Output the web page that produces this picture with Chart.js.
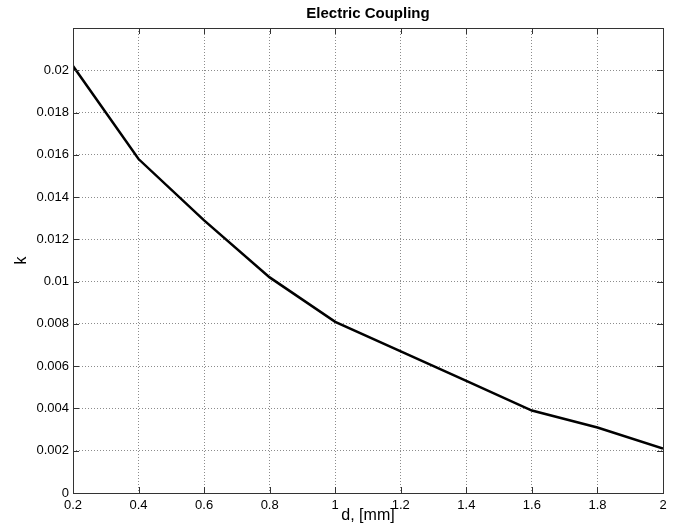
<!DOCTYPE html>
<html>
<head>
<meta charset="utf-8">
<script src="https://cdn.jsdelivr.net/npm/chart.js@4.4.1/dist/chart.umd.min.js"></script>
<style>
  html, body { margin: 0; padding: 0; background: #fff; }
  #wrap { width: 679px; height: 526px; }
</style>
</head>
<body>
<div id="wrap"><canvas id="mychart" width="679" height="526"></canvas></div>
<script>
// distance d in mm and coupling k
const dValues = [0.2, 0.4, 0.6, 0.8, 1.0, 1.2, 1.4, 1.6, 1.8, 2.0];
const kValues = [0.0202, 0.0158, 0.0129, 0.0102, 0.0081, 0.0067, 0.0053, 0.0039, 0.0031, 0.0021];
const xTicks = [0.2, 0.4, 0.6, 0.8, 1, 1.2, 1.4, 1.6, 1.8, 2];
const yTicks = [0, 0.002, 0.004, 0.006, 0.008, 0.01, 0.012, 0.014, 0.016, 0.018, 0.02];

const FONT = 'Liberation Sans, Arial, Helvetica, sans-serif';

// box + inward ticks + title, matlab style
const matlabBox = {
  id: 'matlabBox',
  afterDraw(chart) {
    const ctx = chart.ctx;
    const a = chart.chartArea;
    const xs = chart.scales.x, ys = chart.scales.y;
    ctx.save();
    ctx.strokeStyle = '#333';
    ctx.lineWidth = 1;
    ctx.beginPath();
    xTicks.forEach(v => {
      const px = Math.round(xs.getPixelForValue(v)) + 0.5;
      ctx.moveTo(px, a.bottom); ctx.lineTo(px, a.bottom - 6);
      ctx.moveTo(px, a.top); ctx.lineTo(px, a.top + 6);
    });
    yTicks.forEach(v => {
      const py = Math.round(ys.getPixelForValue(v)) + 0.5;
      ctx.moveTo(a.left, py); ctx.lineTo(a.left + 6, py);
      ctx.moveTo(a.right, py); ctx.lineTo(a.right - 6, py);
    });
    ctx.stroke();
    ctx.strokeRect(Math.round(a.left) + 0.5, Math.round(a.top) + 0.5,
      Math.round(a.right - a.left), Math.round(a.bottom - a.top));
    ctx.fillStyle = '#000';
    ctx.font = 'bold 15px ' + FONT;
    ctx.textAlign = 'center';
    ctx.textBaseline = 'alphabetic';
    ctx.fillText('Electric Coupling', (a.left + a.right) / 2, 18);
    ctx.restore();
  }
};

new Chart(document.getElementById('mychart'), {
  type: 'line',
  data: {
    datasets: [{
      label: 'k',
      data: dValues.map((d, i) => ({ x: d, y: kValues[i] })),
      borderColor: '#000',
      borderWidth: 2.5,
      pointRadius: 0,
      tension: 0,
      fill: false
    }]
  },
  options: {
    responsive: false,
    animation: false,
    layout: { padding: { left: 0, right: 16, top: 28, bottom: 0 } },
    plugins: { legend: { display: false }, tooltip: { enabled: false }, title: { display: false } },
    scales: {
      x: {
        type: 'linear',
        min: 0.2, max: 2,
        afterBuildTicks: s => { s.ticks = xTicks.map(v => ({ value: v })); },
        afterFit: s => { s.height = 33; },
        grid: { color: '#8c8c8c', drawTicks: false, lineWidth: 1 },
        border: { display: false, dash: [1, 2] },
        ticks: { color: '#000', font: { family: FONT, size: 13 }, padding: 5, maxRotation: 0,
          callback: v => String(+v.toFixed(1)) },
        title: { display: true, text: 'd, [mm]', color: '#000', font: { family: FONT, size: 16 }, padding: 1 }
      },
      y: {
        type: 'linear',
        min: 0, max: 0.022,
        afterBuildTicks: s => { s.ticks = yTicks.map(v => ({ value: v })); },
        afterFit: s => { s.width = 73; },
        grid: { color: '#8c8c8c', drawTicks: false, lineWidth: 1 },
        border: { display: false, dash: [1, 2] },
        ticks: { color: '#000', font: { family: FONT, size: 13 }, padding: 4,
          callback: v => String(+v.toFixed(3)) },
        title: { display: true, text: 'k', color: '#000', font: { family: FONT, size: 16 }, padding: 12 }
      }
    }
  },
  plugins: [matlabBox]
});
</script>
</body>
</html>
